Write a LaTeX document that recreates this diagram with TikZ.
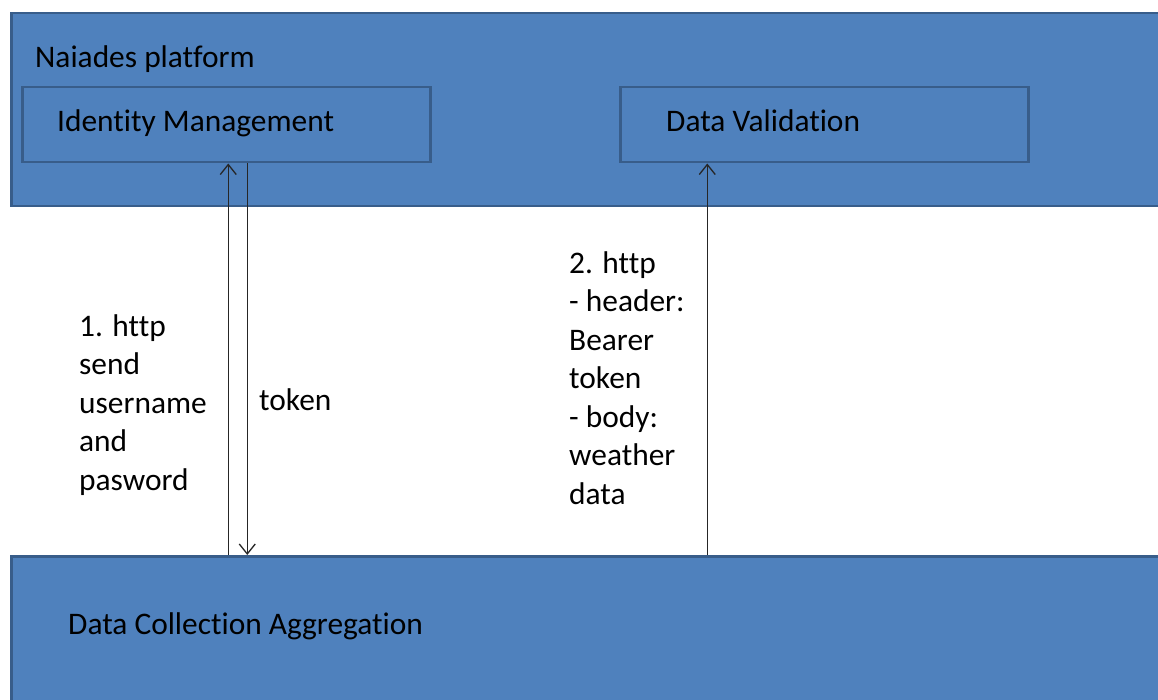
\documentclass[tikz,border=0pt]{standalone}
\usepackage{fontspec}
\setmainfont{Carlito}[Ligatures=NoCommon]
\usepackage{tikz}
\usetikzlibrary{arrows.meta}
\usetikzlibrary{calc,positioning}

\definecolor{boxfill}{HTML}{4F81BD}
\definecolor{boxline}{HTML}{385D8A}

\begin{document}
\begin{tikzpicture}[x=1pt, y=-1pt, >={Straight Barb[length=10pt,width=16pt]},
    band/.style={draw=boxline, line width=2.5pt, fill=boxfill, rectangle, anchor=north west, inner sep=0pt},
    service/.style={draw=boxline, line width=2.5pt, rectangle, anchor=north west, inner sep=0pt,
        minimum width=408pt, minimum height=75pt},
    txt/.style={anchor=base west, inner sep=0pt, align=left,
        font=\fontsize{31.4}{38.5}\selectfont},
    msg/.style={line width=1.3pt, black!85}]

    \useasboundingbox (0,0) rectangle (1158,700);
    \clip (0,0) rectangle (1158,700);

    % platform and client bands
    \node[band, minimum width=1160pt, minimum height=193pt] (platform) at (10,12) {};
    \node[band, minimum width=1160pt, minimum height=160pt] (dca) at (10,555) {};

    \node[service] (im) at (21,86) {};
    \node[service] (dv) at (619,86) {};

    \node[txt] (plabel) at (35,68) {Naiades platform};
    \node[txt] (imlabel) at (57,132) {Identity Management};
    \node[txt] (dvlabel) at (666,132) {Data Validation};
    \node[txt] (dcalabel) at (68,634) {Data Collection Aggregation};

    % requests
    \draw[msg, ->] ([xshift=2pt]im.south |- dca.north) -- ([xshift=2pt]im.south);
    \draw[msg, ->] ([xshift=21pt]im.south) -- ([xshift=21pt]im.south |- dca.north);
    \draw[msg, ->] ([xshift=-117pt]dv.south |- dca.north) -- ([xshift=-117pt]dv.south);

    \node[txt] (req1) at (79,490) {1. http\\send\\username\\and\\pasword};
    \node[txt] (resp1) at (259,410) {token};
    \node[txt] (req2) at (569,504) {2. http\\- header:\\Bearer\\token\\- body:\\weather\\data};

\end{tikzpicture}
\end{document}
